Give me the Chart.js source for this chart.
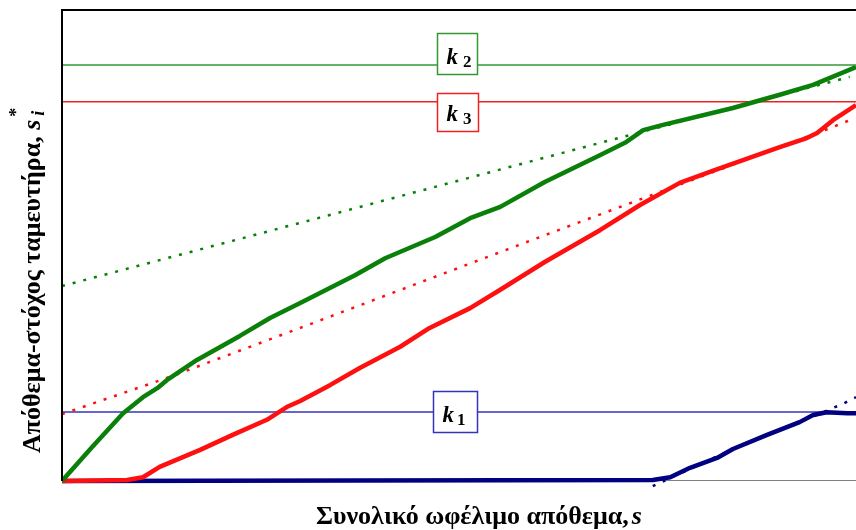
<!DOCTYPE html>
<html>
<head>
<meta charset="utf-8">
<script src="https://cdn.jsdelivr.net/npm/chart.js@4/dist/chart.umd.min.js"></script>
<style>
  html, body { margin: 0; padding: 0; background: #fff; }
  #wrap { width: 856px; height: 530px; }
</style>
</head>
<body>
<div id="wrap"><canvas id="c" width="856" height="530"></canvas></div>
<script>
// ---- data (x: total usable storage s, y: reservoir target storage s*_i) ----
const greenX = [0, 3.8, 7.7, 10.2, 12.0, 13.2, 17.0, 22.4, 26.2, 30.0, 36.9, 40.7, 47.0, 51.4, 55.2, 60.8, 67.8, 70.9, 73.2, 75.7, 84.5, 90.4, 94.6, 100];
const greenY = [0, 7.2, 14.4, 17.8, 19.7, 21.4, 25.7, 30.8, 34.6, 37.8, 43.7, 47.3, 51.8, 55.8, 58.2, 63.5, 69.2, 71.8, 74.5, 75.6, 79.2, 82.0, 84.1, 87.9];

const redX = [0, 8.2, 10.2, 12.3, 17.4, 21.5, 25.8, 28.3, 30.0, 33.8, 37.5, 42.6, 46.3, 51.4, 55.2, 60.8, 67.8, 72.8, 77.8, 82.2, 90.4, 93.8, 95.1, 97.1, 100];
const redY = [0, 0.2, 0.8, 3.0, 6.6, 9.8, 13.0, 15.7, 17.0, 20.4, 24.0, 28.5, 32.5, 36.7, 40.6, 46.5, 53.3, 58.6, 63.3, 66.0, 70.9, 72.8, 73.9, 76.6, 79.8];

const navyX = [0, 74.4, 76.6, 79.1, 82.5, 84.5, 88.8, 92.9, 94.6, 96.3, 98.9, 100];
const navyY = [0, 0.2, 0.8, 2.8, 4.9, 6.8, 9.8, 12.5, 14.0, 14.6, 14.4, 14.4];

const greenTrendX = [0, 29.1, 67.8, 99.2];
const greenTrendY = [41.4, 54.4, 71.8, 85.8];
const redTrendX = [0, 13.6, 30.0, 60.2, 96.7, 99.2];
const redTrendY = [14.2, 22.1, 32.5, 51.8, 74.9, 76.6];
const navyTrendX = [74.4, 84.5, 92.9, 98.5, 100];
const navyTrendY = [-1.1, 6.8, 12.5, 16.5, 17.8];

const kLevels = [14.65, 88.3, 80.5];        // k1, k2, k3
const kLabels = ['1', '2', '3'];
const kLabelX = 49.7;

const xTitle = 'Συνολικό ωφέλιμο απόθεμα,';
const xTitleVar = 's';
const yTitle = 'Απόθεμα-στόχος ταμευτήρα, ';
const yTitleVar = 's';

// ---- helpers ----
const pts = (xs, ys) => xs.map((x, i) => ({x: x, y: ys[i]}));
const hline = (y) => [{x: 0, y: y}, {x: 100, y: y}];

const kColors = ['#3333bb', '#339933', '#ee2222'];
const kBoxOffsets = [[-24, -21, 44, 41], [-20, -32, 40, 41], [-20, -9, 41, 38]]; // dx, dy, w, h relative to (kLabelX, level)

const boxesPlugin = {
  id: 'boxes',
  afterDatasetsDraw(chart) {
    const ctx = chart.ctx;
    const xs = chart.scales.x, ys = chart.scales.y;
    const a = chart.chartArea;
    ctx.save();
    // frame
    ctx.strokeStyle = '#000';
    ctx.lineWidth = 2;
    ctx.beginPath();
    ctx.moveTo(a.left, a.bottom);
    ctx.lineTo(a.left, a.top);
    ctx.lineTo(a.right, a.top);
    ctx.stroke();
    // k boxes
    for (let i = 0; i < kLevels.length; i++) {
      const cx = xs.getPixelForValue(kLabelX);
      const cy = ys.getPixelForValue(kLevels[i]);
      const [dx, dy, w, h] = kBoxOffsets[i];
      const bx = Math.round(cx + dx) + 0.5, by = Math.round(cy + dy) + 0.5;
      ctx.fillStyle = '#fff';
      ctx.fillRect(bx, by, w, h);
      ctx.strokeStyle = kColors[i];
      ctx.lineWidth = 1.5;
      ctx.strokeRect(bx, by, w, h);
      ctx.fillStyle = '#000';
      ctx.textBaseline = 'alphabetic';
      ctx.textAlign = 'left';
      ctx.font = 'italic bold 23px "Liberation Serif", serif';
      const kb = by + h - 11;
      ctx.fillText('k', bx + 9, kb);
      const kw = ctx.measureText('k').width;
      ctx.font = 'bold 17px "Liberation Serif", serif';
      ctx.fillText(kLabels[i], bx + 9 + kw + (i === 0 ? 3 : 5), kb + 3);
    }
    ctx.restore();
  },
  afterDraw(chart) {
    const ctx = chart.ctx;
    ctx.save();
    ctx.fillStyle = '#000';
    ctx.textBaseline = 'alphabetic';
    ctx.textAlign = 'left';
    // x title
    ctx.font = 'bold 26px "Liberation Serif", serif';
    const w1 = ctx.measureText(xTitle).width;
    const x0 = 316;
    ctx.fillText(xTitle, x0, 524);
    ctx.font = 'italic bold 26px "Liberation Serif", serif';
    ctx.fillText(xTitleVar, x0 + w1 + 3, 524);
    // y title (rotated)
    ctx.translate(40, 453);
    ctx.rotate(-Math.PI / 2);
    ctx.font = 'bold 26px "Liberation Serif", serif';
    ctx.fillText(yTitle, 0, 0);
    const w2 = ctx.measureText(yTitle).width;
    ctx.font = 'italic bold 26px "Liberation Serif", serif';
    ctx.fillText(yTitleVar, w2, 0);
    const w3 = ctx.measureText(yTitleVar).width;
    ctx.font = 'bold 18px "Liberation Serif", serif';
    ctx.fillText('*', w2 + w3 + 3, -18);
    ctx.font = 'italic bold 18px "Liberation Serif", serif';
    ctx.fillText('i', w2 + w3 + 4, 4);
    ctx.restore();
  }
};

const solid = (data, color, order) => ({
  data: data, borderColor: color, borderWidth: 4.5, pointRadius: 0, fill: false,
  tension: 0, order: order, borderJoinStyle: 'round', borderCapStyle: 'butt', clip: {left: 0, top: 0, right: 0, bottom: 3}
});
const dotted = (data, color, order) => ({
  data: data, borderColor: color, borderWidth: 2.5, pointRadius: 0, fill: false,
  tension: 0, order: order, borderDash: [3, 8], clip: false
});
const thin = (data, color, order) => ({
  data: data, borderColor: color, borderWidth: 1.5, pointRadius: 0, fill: false,
  tension: 0, order: order
});

new Chart(document.getElementById('c'), {
  type: 'line',
  data: {
    datasets: [
      solid(pts(greenX, greenY), '#0a800a', 1),
      solid(pts(redX, redY), '#ff1010', 2),
      solid(pts(navyX, navyY), '#000080', 3),
      dotted(pts(greenTrendX, greenTrendY), '#0a800a', 4),
      dotted(pts(redTrendX, redTrendY), '#ff1010', 5),
      dotted(pts(navyTrendX, navyTrendY), '#000080', 6),
      thin(hline(kLevels[0]), kColors[0], 7),
      thin(hline(kLevels[1]), kColors[1], 8),
      thin(hline(kLevels[2]), kColors[2], 9),
      {data: [{x: 0, y: 0}, {x: 100, y: 0}], borderColor: '#000', borderWidth: 1, pointRadius: 0, order: 10}
    ]
  },
  options: {
    responsive: false,
    animation: false,
    devicePixelRatio: 1,
    layout: { padding: { left: 62, top: 10, right: 0, bottom: 49 } },
    plugins: { legend: { display: false }, tooltip: { enabled: false } },
    scales: {
      x: { type: 'linear', min: 0, max: 100, display: false },
      y: { type: 'linear', min: 0, max: 100, display: false }
    }
  },
  plugins: [boxesPlugin]
});
</script>
</body>
</html>
